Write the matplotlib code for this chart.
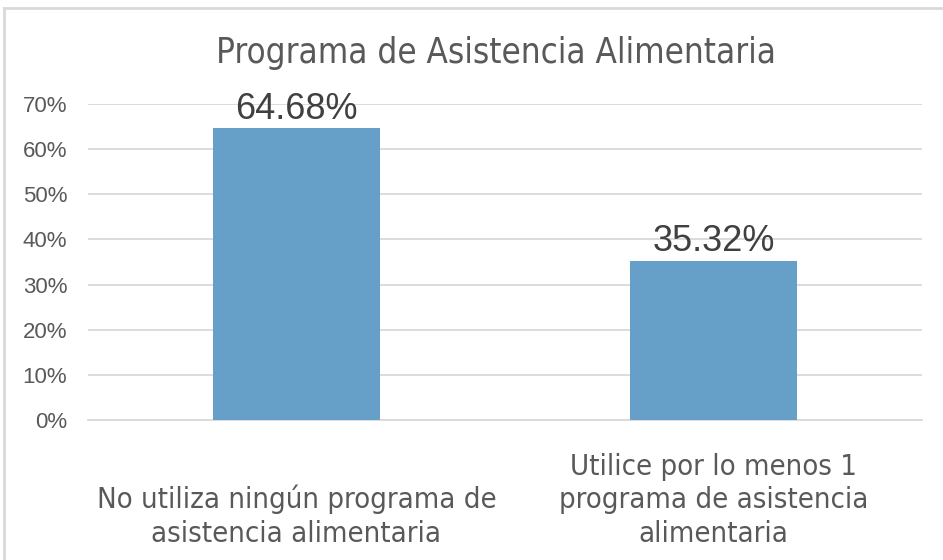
import matplotlib
matplotlib.use('Agg')
import matplotlib.pyplot as plt
from matplotlib.lines import Line2D
from matplotlib.ticker import PercentFormatter
from matplotlib.transforms import blended_transform_factory

# datos del grafico
categorias = ['No utiliza ningún programa de\nasistencia alimentaria',
              'Utilice por lo menos 1\nprograma de asistencia\nalimentaria']
valores = [0.6468, 0.3532]
etiquetas = ['64.68%', '35.32%']
ticks_y = [0, 0.1, 0.2, 0.3, 0.4, 0.5, 0.6, 0.7]

color_barra = '#669fc8'
gris_texto = '#595959'
plt.rcParams['font.family'] = ['Liberation Sans', 'DejaVu Sans']

fig = plt.figure(figsize=(9.43, 5.6), dpi=100)
ax = fig.add_axes([0.0933, 0.25, 0.8844, 0.5643])

x = range(len(valores))
barras = ax.bar(x, valores, width=0.4, color=color_barra, zorder=3)
ax.set_xlim(-0.5, 1.5)
ax.set_ylim(0, 0.7)
ax.set_yticks(ticks_y)
ax.yaxis.set_major_formatter(PercentFormatter(1.0, decimals=0))
ax.grid(axis='y', color='#d9d9d9', linewidth=1.3, zorder=0)
ax.tick_params(axis='y', length=0, pad=15, labelsize=16, labelcolor=gris_texto)
ax.set_xticks(list(x))
ax.set_xticklabels([])
ax.tick_params(axis='x', length=0)
for lado in ['top', 'right', 'left']:
    ax.spines[lado].set_visible(False)
ax.spines['bottom'].set_color('#d9d9d9')
ax.spines['bottom'].set_linewidth(1.3)

# etiquetas de categoria alineadas abajo (como Excel)
trans = blended_transform_factory(ax.transData, fig.transFigure)
for i, cat in enumerate(categorias):
    ax.text(i, 0.022, cat, transform=trans, ha='center', va='bottom',
            fontsize=21, color=gris_texto, family='DejaVu Sans',
            stretch='condensed', linespacing=1.24, multialignment='center')

for i, v in enumerate(valores):
    ax.text(i, v + 0.003, etiquetas[i], ha='center', va='bottom',
            fontsize=26, color='#404040')

fig.text(0.5265, 0.905, 'Programa de Asistencia Alimentaria', ha='center',
         va='center', fontsize=25, color=gris_texto, family='DejaVu Sans',
         stretch='condensed')

# borde del area del grafico
fig.add_artist(Line2D([0.004, 1.0], [0.986, 0.986], color='#d9d9d9', lw=2))
fig.add_artist(Line2D([0.004, 0.004], [0.0, 0.986], color='#d9d9d9', lw=2))

fig.savefig('out.png', dpi=100)
